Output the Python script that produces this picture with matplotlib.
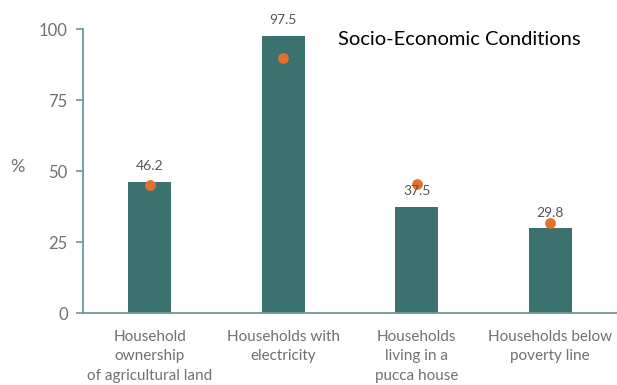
import numpy as np
import matplotlib.pyplot as plt

categories = ["Household\nownership\nof agricultural land",
              "Households with\nelectricity",
              "Households\nliving in a\npucca house",
              "Households below\npoverty line"]
district_pct = [46.2, 97.5, 37.5, 29.8]
state_pct = [45.1, 89.8, 45.3, 31.8]
yticks = [0, 25, 50, 75, 100]

BAR = "#3b716e"
DOT = "#e2712f"
AXIS = "#6a9a98"
GREY = "#707070"

plt.rcParams['font.family'] = ['Lato', 'DejaVu Sans']

fig = plt.figure(figsize=(6.17, 3.85), dpi=100)
ax = fig.add_axes([0.1345, 0.187, 0.8655, 0.7375])

x = np.arange(len(categories))
ax.bar(x, district_pct, width=0.32, color=BAR, zorder=2)
ax.scatter(x, state_pct, s=60, color=DOT, zorder=3, linewidths=0)

for xi, v in zip(x, district_pct):
    ax.annotate(f"{v:.1f}", (xi, v), xytext=(0, 7), textcoords="offset points",
                ha="center", va="bottom", fontsize=10, color="#555555")

ax.set_xlim(-0.5, 3.5)
ax.set_ylim(0, 100)
ax.set_yticks(yticks)
ax.set_xticks(x)
ax.set_xticklabels(categories, fontsize=11, color=GREY, linespacing=1.5)
ax.tick_params(axis="x", length=0, pad=12)
ax.tick_params(axis="y", length=5, width=1.2, color=AXIS, labelsize=12,
               labelcolor=GREY, pad=6)

for s in ["top", "right"]:
    ax.spines[s].set_visible(False)
for s in ["left", "bottom"]:
    ax.spines[s].set_color(AXIS)
    ax.spines[s].set_linewidth(1.3)

fig.text(0.028, 0.565, "%", fontsize=13, color=GREY, ha="center", va="center")
fig.text(0.744, 0.897, "Socio-Economic Conditions", fontsize=14.5, color="black",
         ha="center", va="center")

fig.savefig("out.png", dpi=100)
